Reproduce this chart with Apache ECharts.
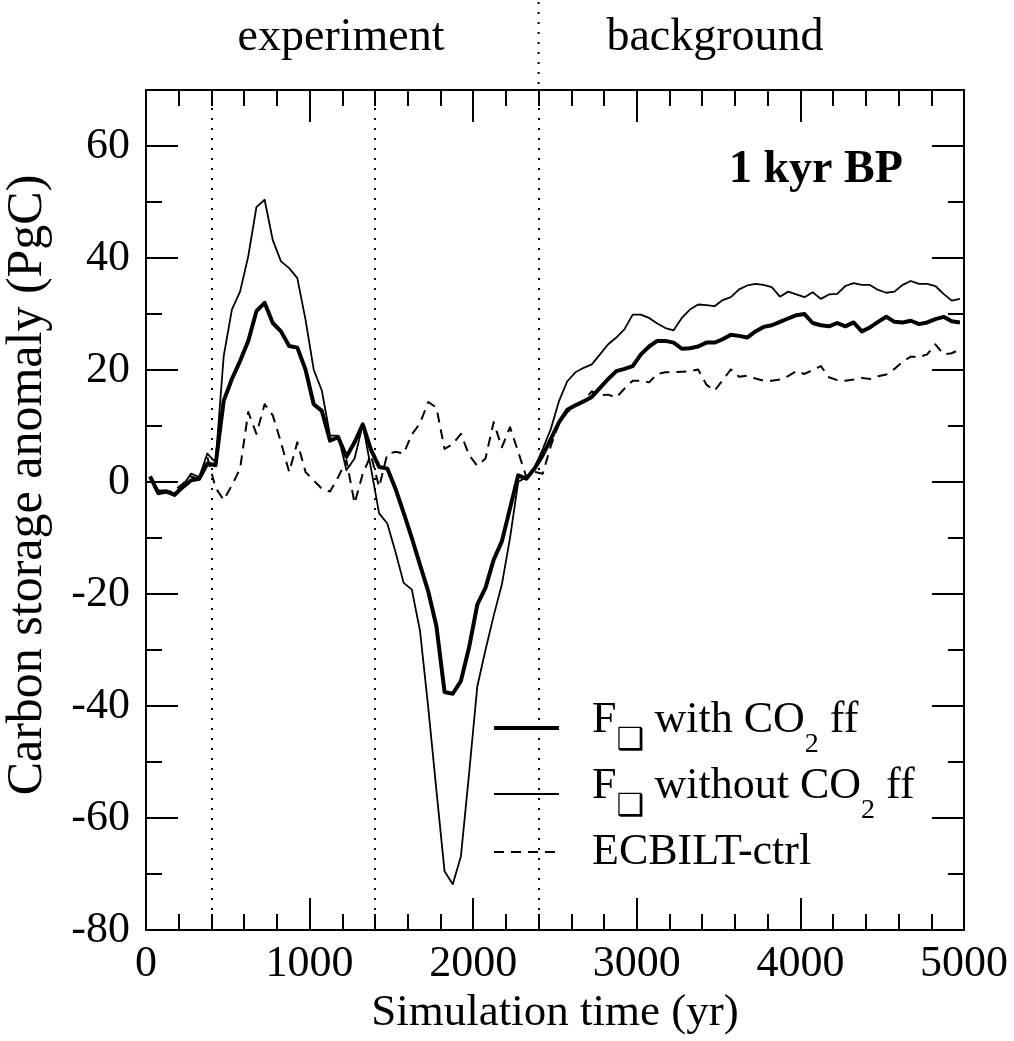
<!DOCTYPE html>
<html>
<head>
<meta charset="utf-8">
<script src="https://cdn.jsdelivr.net/npm/echarts@6/dist/echarts.min.js"></script>
<style>
  html, body { margin: 0; padding: 0; background: #fff; }
  #chart { width: 1014px; height: 1041px; }
</style>
</head>
<body>
<div id="chart"></div>
<script>
// Simulation years (mid-points of 50-yr output intervals)
const years = [
  25, 75, 125, 175, 225, 275, 325, 375, 425, 475,
  525, 575, 625, 675, 725, 775, 825, 875, 925, 975,
  1025, 1075, 1125, 1175, 1225, 1275, 1325, 1375, 1425, 1475,
  1525, 1575, 1625, 1675, 1725, 1775, 1825, 1875, 1925, 1975,
  2025, 2075, 2125, 2175, 2225, 2275, 2325, 2375, 2425, 2475,
  2525, 2575, 2625, 2675, 2725, 2775, 2825, 2875, 2925, 2975,
  3025, 3075, 3125, 3175, 3225, 3275, 3325, 3375, 3425, 3475,
  3525, 3575, 3625, 3675, 3725, 3775, 3825, 3875, 3925, 3975,
  4025, 4075, 4125, 4175, 4225, 4275, 4325, 4375, 4425, 4475,
  4525, 4575, 4625, 4675, 4725, 4775, 4825, 4875, 4925, 4975
];

// Carbon storage anomaly (PgC), forcing run with fossil-fuel CO2
const withFossil = [
  1.0, -2.0, -1.7, -2.3, -0.9, 0.3, 0.6, 3.3, 3.0, 14.5,
  18.4, 21.6, 25.2, 30.5, 32.0, 28.4, 26.9, 24.3, 24.0, 20.1,
  13.9, 12.7, 7.4, 8.0, 4.5, 7.1, 10.3, 5.8, 2.7, 2.4,
  -1.2, -5.5, -10.0, -14.8, -19.5, -25.7, -37.5, -37.8, -35.5, -29.5,
  -21.9, -18.9, -13.9, -10.6, -4.7, 1.2, 0.6, 2.4, 4.8, 7.7,
  10.7, 12.9, 13.7, 14.4, 15.2, 16.8, 18.4, 19.8, 20.2, 20.7,
  22.8, 24.2, 25.2, 25.2, 24.9, 23.8, 23.9, 24.2, 24.9, 24.9,
  25.5, 26.3, 26.1, 25.8, 26.9, 27.7, 28.0, 28.6, 29.2, 29.8,
  30.0, 28.4, 28.0, 27.8, 28.4, 27.8, 28.5, 26.9, 27.6, 28.6,
  29.5, 28.6, 28.5, 28.8, 28.2, 28.5, 29.1, 29.5, 28.7, 28.5
];

// Forcing run without fossil-fuel CO2
const withoutFossil = [
  0.9, -1.5, -1.5, -2.0, -0.6, 1.5, 0.9, 5.1, 3.5, 22.5,
  30.8, 34.0, 40.3, 49.1, 50.4, 43.2, 39.4, 38.2, 36.4, 29.0,
  20.1, 16.3, 8.3, 8.3, 2.1, 4.2, 10.3, 2.5, -5.6, -7.4,
  -12.5, -18.0, -19.2, -26.6, -40.2, -55.0, -69.5, -71.8, -66.8, -52.0,
  -36.5, -30.0, -23.9, -18.3, -10.0, 0.0, 0.9, 2.6, 5.9, 9.5,
  14.5, 18.0, 19.6, 20.4, 21.0, 22.8, 24.6, 25.8, 27.3, 29.9,
  29.9, 29.3, 28.3, 27.5, 27.1, 29.3, 30.8, 31.7, 31.6, 31.4,
  32.5, 33.0, 34.4, 35.1, 35.4, 35.2, 34.8, 33.1, 34.0, 33.5,
  33.0, 33.9, 32.7, 33.5, 33.6, 35.0, 35.5, 35.2, 35.2, 34.3,
  33.8, 34.0, 35.2, 35.9, 35.4, 35.4, 35.0, 33.6, 32.4, 32.7
];

// Control run of the climate model
const ctrlRun = [
  0.5, -1.5, -1.8, -1.5, -0.3, 1.0, 0.5, 4.5, -1.0, -3.2,
  -0.6, 2.4, 12.5, 8.6, 13.9, 11.9, 7.1, 1.8, 7.1, 1.8,
  0.3, -1.2, -1.7, 0.9, 3.9, -3.8, 1.5, 4.8, -0.9, 5.0,
  5.4, 5.1, 8.5, 10.5, 14.3, 13.3, 5.9, 6.8, 8.6, 4.8,
  2.9, 4.2, 10.7, 6.2, 9.8, 5.4, 0.9, 1.8, 1.5, 6.5,
  10.5, 12.5, 13.5, 14.5, 16.2, 15.5, 15.6, 15.1, 16.7, 18.1,
  18.1, 17.8, 19.3, 19.6, 19.6, 19.7, 19.8, 20.1, 17.4, 16.3,
  18.2, 20.1, 18.8, 19.0, 18.5, 18.1, 18.1, 18.3, 18.9, 19.8,
  19.3, 20.0, 20.7, 18.7, 18.2, 18.1, 18.3, 18.6, 18.4, 18.9,
  19.2, 20.2, 21.5, 22.4, 22.3, 22.8, 24.6, 22.8, 23.0, 23.7
];

// Phase boundaries (yr) and labels
const phaseBounds = [400, 1400, 2400];
const phaseLabels = ['experiment', 'background'];
const seriesNames = ['F with CO2 ff', 'F without CO2 ff', 'ECBILT-ctrl'];

const FONT = '"Liberation Serif", "Times New Roman", serif';
const INK = '#000';

const pairs = vals => years.map((y, i) => [y, vals[i]]);

const tickStyle = { color: INK, width: 2 };

function xAxisCfg(pos, labels) {
  return {
    type: 'value', position: pos, min: 0, max: 5000, interval: 1000,
    axisLine: { show: true, onZero: false, lineStyle: { color: INK, width: 2 } },
    axisTick: { show: true, inside: true, length: 32, lineStyle: tickStyle },
    minorTick: { show: true, splitNumber: 5, length: 16, lineStyle: tickStyle },
    splitLine: { show: false }, minorSplitLine: { show: false },
    axisLabel: labels ? {
      show: true, fontSize: 44, fontFamily: FONT, color: INK, margin: 12,
      formatter: v => String(v)
    } : { show: false },
    name: labels ? 'Simulation time (yr)' : '',
    nameLocation: 'middle', nameGap: 52,
    nameTextStyle: { fontSize: 45, fontFamily: FONT, color: INK }
  };
}

function yAxisCfg(pos, step, len, withLine, labels) {
  return {
    type: 'value', position: pos, min: -80, max: 70, interval: step,
    axisLine: { show: withLine, onZero: false, lineStyle: { color: INK, width: 2 } },
    axisTick: { show: true, inside: true, length: len, lineStyle: tickStyle },
    splitLine: { show: false },
    axisLabel: labels ? {
      show: true, fontSize: 44, fontFamily: FONT, color: INK, margin: 16,
      formatter: v => (v > 60 ? '' : String(v))
    } : { show: false }
  };
}

const chart = echarts.init(document.getElementById('chart'), null, { renderer: 'canvas' });

const legendRich = {
  gap: { width: 28 },
  m: { fontSize: 44, fontFamily: FONT, color: INK, height: 48, verticalAlign: 'top' },
  sub: { fontSize: 28, fontFamily: FONT, color: INK, height: 30, verticalAlign: 'bottom' },
  box: { fontSize: 31, fontFamily: '"DejaVu Sans", sans-serif', color: INK, width: 27, height: 38, verticalAlign: 'bottom' },
  plain: { fontSize: 44, fontFamily: FONT, color: INK }
};

const legendText = {};
legendText[seriesNames[0]] = '{gap| }{m|F}{box|\u2751}{m| with CO}{sub|2}{m| ff}';
legendText[seriesNames[1]] = '{gap| }{m|F}{box|\u2751}{m| without CO}{sub|2}{m| ff}';
legendText[seriesNames[2]] = '{gap| }{plain|ECBILT-ctrl}';

chart.setOption({
  animation: false,
  backgroundColor: '#fff',
  grid: { left: 146, right: 50, top: 90, bottom: 108, containLabel: false },
  xAxis: [xAxisCfg('bottom', true), xAxisCfg('top', false)],
  yAxis: [
    yAxisCfg('left', 20, 32, true, true),
    yAxisCfg('left', 10, 16, false, false),
    yAxisCfg('right', 20, 32, true, false),
    yAxisCfg('right', 10, 16, false, false)
  ],
  legend: {
    orient: 'vertical', left: 492, top: 696, padding: 0, itemGap: 2,
    itemWidth: 65, itemHeight: 10, selectedMode: false,
    itemStyle: { opacity: 0 },
    lineStyle: { width: 'inherit' },
    textStyle: { fontSize: 44, fontFamily: FONT, color: INK, lineHeight: 64, rich: legendRich },
    formatter: name => legendText[name],
    data: [
      { name: seriesNames[0] },
      { name: seriesNames[1] },
      { name: seriesNames[2], textStyle: { lineHeight: 48 } }
    ]
  },
  series: [
    {
      name: seriesNames[2], type: 'line', data: pairs(ctrlRun),
      symbol: 'none', showSymbol: false, color: INK,
      lineStyle: { color: INK, width: 2, type: [10, 7], join: 'round' },
      markLine: {
        silent: true, symbol: ['none', 'none'], animation: false,
        label: { show: false },
        lineStyle: { color: INK, width: 2, type: [2, 8] },
        data: phaseBounds.map(b => ({ xAxis: b }))
      }
    },
    {
      name: seriesNames[1], type: 'line', data: pairs(withoutFossil),
      symbol: 'none', showSymbol: false, color: INK,
      lineStyle: { color: INK, width: 1.8, join: 'round' }
    },
    {
      name: seriesNames[0], type: 'line', data: pairs(withFossil),
      symbol: 'none', showSymbol: false, color: INK,
      lineStyle: { color: INK, width: 4, join: 'round' }
    }
  ]
});

// Annotations placed from axis coordinates
const xEdge = chart.convertToPixel({ xAxisIndex: 0 }, phaseBounds[2]);
const gridTop = chart.convertToPixel({ yAxisIndex: 0 }, 70);

chart.setOption({
  graphic: [
    {
      type: 'line', silent: true,
      shape: { x1: xEdge, y1: 2, x2: xEdge, y2: gridTop },
      style: { stroke: INK, lineWidth: 2, lineDash: [2, 8] }
    },
    {
      type: 'text', silent: true, x: 341, y: 38,
      style: { text: phaseLabels[0], font: '46px ' + FONT, fill: INK, align: 'center', verticalAlign: 'middle' }
    },
    {
      type: 'text', silent: true, x: 715, y: 38,
      style: { text: phaseLabels[1], font: '46px ' + FONT, fill: INK, align: 'center', verticalAlign: 'middle' }
    },
    {
      type: 'text', silent: true, x: 729, y: 170,
      style: { text: '1 kyr BP', font: 'bold 46px ' + FONT, fill: INK, align: 'left', verticalAlign: 'middle' }
    },
    {
      type: 'text', silent: true, x: 28, y: 485, rotation: Math.PI / 2,
      style: { text: 'Carbon storage anomaly (PgC)', font: '50px ' + FONT, fill: INK, align: 'center', verticalAlign: 'middle' }
    }
  ]
});
</script>
</body>
</html>
